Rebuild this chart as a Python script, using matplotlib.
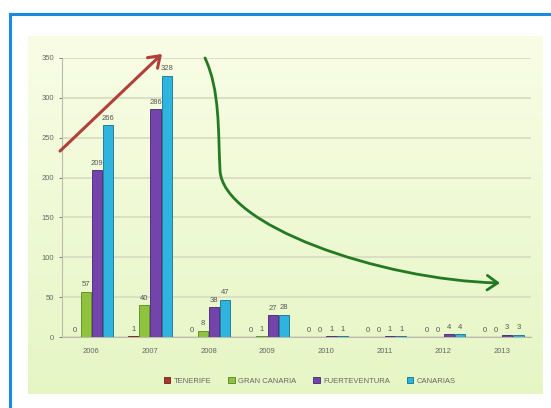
import numpy as np
import matplotlib
matplotlib.use('Agg')
import matplotlib.pyplot as plt
from matplotlib.patches import FancyArrowPatch, Rectangle
from matplotlib.path import Path

plt.rcParams['font.family'] = ['Liberation Sans', 'DejaVu Sans']

years = ['2006', '2007', '2008', '2009', '2010', '2011', '2012', '2013']
tenerife = [0, 1, 0, 0, 0, 0, 0, 0]
gran_canaria = [57, 40, 8, 1, 0, 0, 0, 0]
fuerteventura = [209, 286, 38, 27, 1, 1, 4, 3]
canarias = [266, 328, 47, 28, 1, 1, 4, 3]

series = [('TENERIFE', tenerife, '#a8382c', '#6e1f18'),
          ('GRAN CANARIA', gran_canaria, '#8fc23e', '#5a8420'),
          ('FUERTEVENTURA', fuerteventura, '#7444ad', '#43246e'),
          ('CANARIAS', canarias, '#2fb4df', '#14708f')]

W, H = 551, 408
fig = plt.figure(figsize=(W / 100, H / 100), dpi=100)


def px(x, y):
    return (x / W, 1 - y / H)


# blue frame on top and left
fig.add_artist(plt.Line2D([10 / W, 10 / W], [0, 1 - 14 / H], color='#1a8ae2', lw=2.2))
fig.add_artist(plt.Line2D([10 / W, 1], [1 - 14 / H, 1 - 14 / H], color='#1a8ae2', lw=2.2))

# yellow-green gradient panel
bg = fig.add_axes([28 / W, 1 - 394 / H, (543 - 28) / W, (394 - 36) / H])
grad = np.linspace(0, 1, 256).reshape(-1, 1)
top = np.array([0.976, 0.992, 0.900])
bot = np.array([0.900, 0.965, 0.770])
img = top + (bot - top) * grad[:, :, None]
bg.imshow(img, aspect='auto', extent=[0, 1, 0, 1])
bg.set_axis_off()

ax = fig.add_axes([62 / W, 1 - 337 / H, (531 - 62) / W, (337 - 58) / H])
ax.set_facecolor('none')
x = np.arange(len(years))
bw = 0.19
for i, (name, vals, col, edge) in enumerate(series):
    pos = x + (i - 1.5) * bw
    bars = ax.bar(pos, vals, bw * 0.92, color=col, edgecolor=edge, linewidth=0.6,
                  label=name, zorder=3)
    for p, v in zip(pos, vals):
        ax.text(p, v + 4, str(v), ha='center', va='bottom', fontsize=5.5,
                color='#555555', zorder=4)

ax.set_xlim(-0.5, len(years) - 0.5)
ax.set_ylim(0, 350)
ax.set_yticks(range(0, 351, 50))
ax.set_xticks(x)
ax.set_xticklabels(years)
ax.tick_params(axis='both', labelsize=5.5, colors='#666666', length=2, width=0.6)
ax.tick_params(axis='x', length=0, pad=8)
ax.grid(axis='y', color='#dcdfc4', lw=1.4, zorder=0)
for s in ['top', 'right']:
    ax.spines[s].set_visible(False)
ax.spines['left'].set_color('#bbbbaa')
ax.spines['bottom'].set_color('#bbbbaa')

leg = fig.legend(loc='center', bbox_to_anchor=(310 / W, 1 - 381 / H), ncol=4,
                 frameon=False, fontsize=5.5, handlelength=0.8, handleheight=0.8,
                 columnspacing=2.2, handletextpad=0.5)
for t in leg.get_texts():
    t.set_color('#666666')

# red rising arrow
red = FancyArrowPatch(px(58, 153), px(164, 52), transform=fig.transFigure,
                      arrowstyle='->,head_length=5,head_width=3.5', color='#b0403a',
                      lw=2.2, mutation_scale=1.5)
fig.add_artist(red)

# green falling arrow
verts = [(205, 58), (220, 90), (218, 130), (220, 170),
         (222, 225), (380, 280), (500, 283)]
codes = [Path.MOVETO, Path.CURVE4, Path.CURVE4, Path.CURVE4,
         Path.CURVE4, Path.CURVE4, Path.CURVE4]
gpath = Path([px(a, b) for a, b in verts], codes)
green = FancyArrowPatch(path=gpath, transform=fig.transFigure,
                        arrowstyle='->,head_length=5,head_width=3.5', color='#237a23',
                        lw=2.0, mutation_scale=1.5)
fig.add_artist(green)

fig.savefig('out.png', dpi=100)
